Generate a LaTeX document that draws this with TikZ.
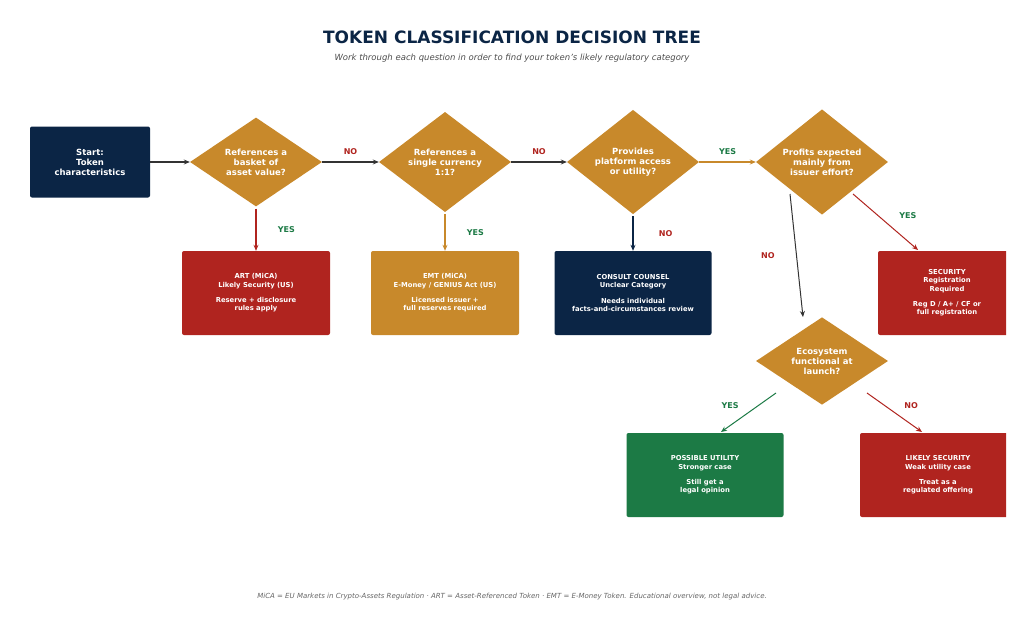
\documentclass[tikz,border=0pt]{standalone}
\usepackage{fontspec}
\setmainfont{DejaVu Sans}
\usetikzlibrary{shapes.geometric,positioning,arrows.meta}
\definecolor{navy}{HTML}{0B2545}
\definecolor{gold}{HTML}{C8892B}
\definecolor{darkred}{HTML}{B0241F}
\definecolor{okgreen}{HTML}{1C7A45}
\definecolor{arrowgray}{HTML}{333333}
\tikzset{
  question/.style={diamond, fill=gold, text=white, minimum width=132pt, minimum height=83pt, inner sep=0pt, align=center, font=\fontsize{8.5}{10}\selectfont\bfseries},
  outcome/.style={rectangle, rounded corners=2pt, text=white, minimum width=148pt, minimum height=84pt, align=center, font=\fontsize{6.8}{8.3}\selectfont\bfseries},
  flow/.style={-{Stealth[length=6pt,width=5pt]}, line width=1.2pt},
  tag/.style={font=\fontsize{8}{9}\selectfont\bfseries}
}
\begin{document}
\begin{tikzpicture}[x=1pt, y=-1pt]
    \useasboundingbox (0,0) rectangle (1024,637);
    \node[font=\fontsize{17}{20}\selectfont\bfseries, text=navy] (title) at (512,37) {TOKEN CLASSIFICATION DECISION TREE};
    \node[font=\fontsize{8.5}{10}\selectfont\itshape, text=black!70] (subtitle) at (512,58) {Work through each question in order to find your token’s likely regulatory category};

    % Questions
    \node[rectangle, rounded corners=2pt, fill=navy, text=white, minimum width=120pt, minimum height=71pt, align=center, font=\fontsize{8.5}{10}\selectfont\bfseries] (start) at (90,162) {Start:\\Token\\characteristics};
    \node[question] (basket) at (256,162) {References a\\basket of\\asset value?};
    \node[question] (single) at (445,162) {References a\\single currency\\1:1?};
    \node[question] (access) at (633,162) {Provides\\platform access\\or utility?};
    \node[question] (profits) at (822,162) {Profits expected\\mainly from\\issuer effort?};
    \node[question] (eco) at (822,361) {Ecosystem\\functional at\\launch?};

    % Outcomes
    \node[outcome, fill=darkred] (art) at (256,293) {ART (MiCA)\\Likely Security (US)\\[7pt]Reserve + disclosure\\rules apply};
    \node[outcome, fill=gold] (emt) at (445,293) {EMT (MiCA)\\E-Money / GENIUS Act (US)\\[7pt]Licensed issuer +\\full reserves required};
    \node[outcome, fill=navy, minimum width=157pt] (counsel) at (633,293) {CONSULT COUNSEL\\Unclear Category\\[7pt]Needs individual\\facts-and-circumstances review};
    \node[outcome, fill=okgreen, minimum width=157pt] (utility) at (705,475) {POSSIBLE UTILITY\\Stronger case\\[7pt]Still get a\\legal opinion};
    \begin{scope}
        \clip (0,0) rectangle (1006,637);
        \node[outcome, fill=darkred, minimum width=150pt] (security) at (953,293) {};
        \node[outcome, fill=darkred, minimum width=156pt] (likely) at (938,475) {};
    \end{scope}
    \node[font=\fontsize{6.8}{8.3}\selectfont\bfseries, text=white, align=center] at (947,293) {SECURITY\\Registration\\Required\\[7pt]Reg D / A+ / CF or\\full registration};
    \node[font=\fontsize{6.8}{8.3}\selectfont\bfseries, text=white, align=center] at (938,475) {LIKELY SECURITY\\Weak utility case\\[7pt]Treat as a\\regulated offering};

    % Connectors
    \draw[flow, arrowgray] (start) -- (basket);
    \draw[flow, arrowgray] (basket) -- node[tag, darkred, above=3pt] {NO} (single);
    \draw[flow, arrowgray] (single) -- node[tag, darkred, above=3pt] {NO} (access);
    \draw[flow, gold] (access) -- node[tag, okgreen, above=3pt] {YES} (profits);
    \draw[flow, darkred] ([yshift=-2pt]basket.south) -- node[tag, okgreen, right=18pt] {YES} (art);
    \draw[flow, gold] ([yshift=-2pt]single.south) -- node[tag, okgreen, right=18pt] {YES} (emt);
    \draw[flow, navy] ([yshift=-2pt]access.south) -- node[tag, darkred, right=22pt] {NO} (counsel);
    \coordinate (secin) at (918,250);
    \coordinate (ecoin) at (803,317);
    \coordinate (utilin) at (721,432);
    \coordinate (likin) at (922,432);
    \draw[flow, darkred, line width=1pt] (853,194) -- node[tag, okgreen, above right=0pt and 10pt] {YES} (secin);
    \draw[flow, arrowgray, line width=1pt] (790,194) -- node[tag, darkred, left=18pt] {NO} (ecoin);
    \draw[flow, okgreen, line width=1pt] (776,393) -- node[tag, okgreen, above left=0pt and 6pt] {YES} (utilin);
    \draw[flow, darkred, line width=1pt] (867,393) -- node[tag, darkred, above right=0pt and 6pt] {NO} (likin);

    \node[font=\fontsize{7}{8}\selectfont\itshape, text=black!60] (note) at (512,597) {MiCA = EU Markets in Crypto-Assets Regulation · ART = Asset-Referenced Token · EMT = E-Money Token. Educational overview, not legal advice.};
\end{tikzpicture}
\end{document}
